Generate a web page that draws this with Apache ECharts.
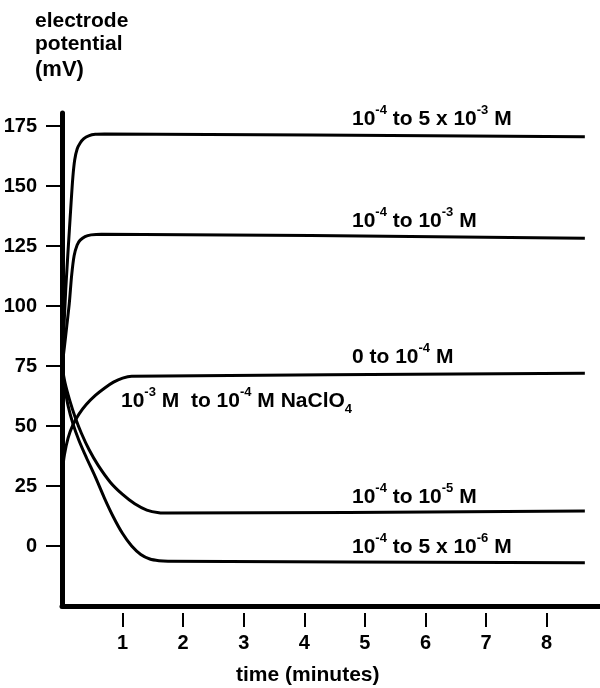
<!DOCTYPE html>
<html>
<head>
<meta charset="utf-8">
<script src="https://cdn.jsdelivr.net/npm/echarts@6/dist/echarts.min.js"></script>
<style>html,body{margin:0;padding:0;background:#fff}#c{width:600px;height:688px}</style>
</head>
<body>
<div id="c"></div>
<script>
// ---- data (time in minutes, potential in mV) ----
const xTicks = [1, 2, 3, 4, 5, 6, 7, 8];
const yTicks = [0, 25, 50, 75, 100, 125, 150, 175];

// 10^-4 to 5 x 10^-3 M
const tA = [0, 0.03, 0.06, 0.09, 0.12, 0.15, 0.18, 0.21, 0.25, 0.3, 0.36, 0.44, 0.55, 0.7, 8.63];
const vA = [75, 90, 106, 119, 131, 143, 154, 161, 165.5, 168, 169.8, 171, 171.6, 171.7, 170.6];

// 10^-4 to 10^-3 M
const tB = [0, 0.04, 0.08, 0.12, 0.16, 0.2, 0.25, 0.3, 0.38, 0.48, 0.65, 8.63];
const vB = [75, 83, 92, 101, 113, 121, 125.5, 127.5, 129, 129.7, 130, 128.3];

// 0 to 10^-4 M
const tC = [0, 0.04, 0.1, 0.18, 0.28, 0.4, 0.55, 0.7, 0.85, 1.0, 1.15, 8.63];
const vC = [30, 38, 45, 50.5, 55, 59, 62.8, 65.8, 68.3, 70, 70.8, 72];

// 10^-4 to 10^-5 M
const tD = [0, 0.05, 0.13, 0.22, 0.32, 0.45, 0.6, 0.8, 1.0, 1.2, 1.4, 1.6, 1.75, 8.63];
const vD = [75, 68, 60.5, 53.5, 47, 40, 33.5, 26.5, 21.5, 17.6, 15, 13.9, 13.75, 14.6];

// 10^-4 to 5 x 10^-6 M
const tE = [0, 0.04, 0.1, 0.18, 0.28, 0.4, 0.55, 0.7, 0.85, 1.0, 1.15, 1.3, 1.45, 1.6, 1.75, 8.63];
const vE = [75, 67, 58.5, 51, 44, 37, 28.8, 20, 12, 5.2, 0, -3.5, -5.4, -6.1, -6.3, -7];

const curves = [[tA, vA], [tB, vB], [tC, vC], [tD, vD], [tE, vE]];

const FONT = '"Liberation Sans", Arial, sans-serif';
const chart = echarts.init(document.getElementById('c'), null, {renderer: 'canvas'});

function txt(x, y, text, size) {
  return {type: 'text', left: x, top: y, z: 10,
    style: {text: text, fill: '#000', fontFamily: FONT, fontWeight: 'bold', fontSize: size}};
}
function lbl(x, y, text) {
  return {
    type: 'text', left: x, top: y, z: 10,
    style: {
      text: text, fill: '#000', fontFamily: FONT, fontWeight: 'bold', fontSize: 21,
      rich: {
        b: {fontFamily: FONT, fontWeight: 'bold', fontSize: 21, lineHeight: 26, verticalAlign: 'bottom'},
        s: {fontFamily: FONT, fontWeight: 'bold', fontSize: 13, lineHeight: 26, verticalAlign: 'top'},
        u: {fontFamily: FONT, fontWeight: 'bold', fontSize: 13, lineHeight: 26, verticalAlign: 'bottom', padding: [0, 0, -4, 0]}
      }
    }
  };
}

const option = {
  animation: false,
  backgroundColor: '#fff',
  grid: {left: 62, right: 0, top: 113, bottom: 82, containLabel: false},
  xAxis: [{
    type: 'value', min: 0, max: 8.88,
    axisLine: {show: true, onZero: false, lineStyle: {color: '#000', width: 5}},
    axisTick: {show: false}, axisLabel: {show: false}, splitLine: {show: false}
  }, {
    type: 'value', min: 0, max: 8.88, position: 'bottom', offset: 7,
    axisLine: {show: false, onZero: false},
    axisTick: {show: true, customValues: xTicks, length: 14, lineStyle: {color: '#000', width: 2}},
    axisLabel: {show: true, customValues: xTicks, margin: 20, color: '#000', fontFamily: FONT, fontWeight: 'bold', fontSize: 20},
    splitLine: {show: false}
  }],
  yAxis: {
    type: 'value', min: -25, max: 180.5, interval: 25,
    axisLine: {show: true, onZero: false, lineStyle: {color: '#000', width: 5}},
    axisTick: {show: true, customValues: yTicks, length: 16, lineStyle: {color: '#000', width: 2}},
    axisLabel: {show: true, customValues: yTicks, margin: 25, color: '#000', fontFamily: FONT, fontWeight: 'bold', fontSize: 20,
      formatter: v => (v < 0 ? '' : String(v))},
    splitLine: {show: false}
  },
  series: curves.map(([t, v]) => ({
    type: 'line', xAxisIndex: 0, yAxisIndex: 0,
    data: t.map((x, i) => [x, v[i]]),
    smooth: 0.3, showSymbol: false, symbol: 'none',
    lineStyle: {color: '#000', width: 3}, z: 3
  })),
  graphic: [
    txt(35, 11, 'electrode', 21),
    txt(35, 34, 'potential', 21),
    txt(35, 59, '(mV)', 22),
    txt(236, 665, 'time (minutes)', 21),
    lbl(352, 104, '{b|10}{s|-4}{b| to 5 x 10}{s|-3}{b| M}'),
    lbl(352, 206, '{b|10}{s|-4}{b| to 10}{s|-3}{b| M}'),
    lbl(352, 342, '{b|0 to 10}{s|-4}{b| M}'),
    lbl(121, 386, '{b|10}{s|-3}{b| M  to 10}{s|-4}{b| M NaClO}{u|4}'),
    lbl(352, 482, '{b|10}{s|-4}{b| to 10}{s|-5}{b| M}'),
    lbl(352, 532, '{b|10}{s|-4}{b| to 5 x 10}{s|-6}{b| M}')
  ]
};
chart.setOption(option);
</script>
</body>
</html>
